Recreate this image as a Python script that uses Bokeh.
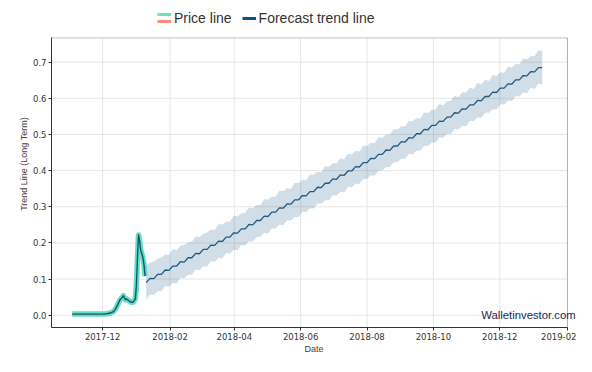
import pandas as pd
from bokeh.plotting import figure
from bokeh.models import (Range1d, FixedTicker, DatetimeTickFormatter, NumeralTickFormatter,
                          Label, Legend, LegendItem, BoxAnnotation)
from bokeh.embed import file_html
from bokeh.resources import INLINE

# ---------------- data ----------------
price_dates = ["2017-11-03", "2017-11-10", "2017-11-17", "2017-11-24", "2017-12-01",
               "2017-12-05", "2017-12-08", "2017-12-11", "2017-12-13", "2017-12-15",
               "2017-12-17", "2017-12-19", "2017-12-20", "2017-12-21", "2017-12-22",
               "2017-12-23", "2017-12-25", "2017-12-27", "2017-12-29", "2017-12-31",
               "2018-01-01", "2018-01-02", "2018-01-03", "2018-01-04", "2018-01-05",
               "2018-01-06", "2018-01-07", "2018-01-08", "2018-01-09"]
price_values = [0.003, 0.003, 0.003, 0.003, 0.003,
                0.004, 0.006, 0.010, 0.018, 0.030,
                0.043, 0.049, 0.054, 0.048, 0.043,
                0.045, 0.040, 0.036, 0.036, 0.045,
                0.080, 0.160, 0.222, 0.205, 0.180,
                0.170, 0.160, 0.140, 0.108]

forecast_start = "2018-01-10"
forecast_step_hours = 84
forecast_trend = [
    0.090, 0.102, 0.101, 0.113, 0.113, 0.125, 0.124, 0.136, 0.136, 0.148,
    0.147, 0.159, 0.159, 0.171, 0.170, 0.182, 0.182, 0.194, 0.193, 0.205,
    0.204, 0.216, 0.216, 0.228, 0.227, 0.239, 0.239, 0.251, 0.250, 0.262,
    0.262, 0.274, 0.273, 0.285, 0.285, 0.297, 0.296, 0.308, 0.307, 0.319,
    0.319, 0.331, 0.330, 0.342, 0.342, 0.354, 0.353, 0.365, 0.365, 0.377,
    0.376, 0.388, 0.387, 0.399, 0.399, 0.411, 0.410, 0.422, 0.422, 0.434,
    0.433, 0.445, 0.445, 0.457, 0.456, 0.468, 0.468, 0.480, 0.479, 0.491,
    0.490, 0.502, 0.502, 0.514, 0.513, 0.525, 0.525, 0.537, 0.536, 0.548,
    0.548, 0.560, 0.559, 0.571, 0.570, 0.582, 0.582, 0.594, 0.593, 0.605,
    0.605, 0.617, 0.616, 0.628, 0.628, 0.640, 0.639, 0.651, 0.651, 0.663,
    0.662, 0.674, 0.673, 0.685, 0.685]
forecast_upper = [
    0.137, 0.146, 0.148, 0.156, 0.160, 0.168, 0.167, 0.183, 0.180, 0.192,
    0.194, 0.201, 0.203, 0.218, 0.216, 0.225, 0.229, 0.237, 0.236, 0.252,
    0.251, 0.259, 0.259, 0.275, 0.274, 0.282, 0.283, 0.298, 0.296, 0.305,
    0.305, 0.321, 0.320, 0.328, 0.328, 0.344, 0.343, 0.351, 0.350, 0.366,
    0.366, 0.374, 0.373, 0.389, 0.389, 0.397, 0.396, 0.412, 0.411, 0.420,
    0.420, 0.434, 0.431, 0.446, 0.445, 0.455, 0.453, 0.469, 0.468, 0.477,
    0.476, 0.492, 0.491, 0.500, 0.499, 0.515, 0.514, 0.523, 0.522, 0.538,
    0.537, 0.545, 0.545, 0.561, 0.559, 0.568, 0.569, 0.584, 0.581, 0.592,
    0.593, 0.607, 0.603, 0.617, 0.616, 0.629, 0.626, 0.642, 0.639, 0.651,
    0.648, 0.665, 0.662, 0.672, 0.671, 0.688, 0.685, 0.695, 0.694, 0.710,
    0.708, 0.717, 0.716, 0.733, 0.731]
forecast_lower = [
    0.043, 0.057, 0.056, 0.066, 0.066, 0.080, 0.079, 0.089, 0.088, 0.103,
    0.102, 0.112, 0.112, 0.126, 0.125, 0.135, 0.135, 0.149, 0.148, 0.158,
    0.157, 0.172, 0.171, 0.181, 0.180, 0.194, 0.193, 0.205, 0.203, 0.216,
    0.217, 0.228, 0.226, 0.240, 0.240, 0.250, 0.249, 0.263, 0.262, 0.272,
    0.272, 0.286, 0.285, 0.295, 0.295, 0.309, 0.308, 0.318, 0.318, 0.332,
    0.331, 0.341, 0.340, 0.355, 0.354, 0.364, 0.363, 0.377, 0.377, 0.387,
    0.386, 0.400, 0.400, 0.410, 0.409, 0.423, 0.423, 0.433, 0.432, 0.446,
    0.445, 0.455, 0.455, 0.469, 0.468, 0.478, 0.478, 0.492, 0.491, 0.501,
    0.501, 0.515, 0.514, 0.524, 0.523, 0.537, 0.537, 0.547, 0.546, 0.560,
    0.560, 0.570, 0.569, 0.583, 0.583, 0.593, 0.592, 0.606, 0.605, 0.616,
    0.614, 0.629, 0.626, 0.640, 0.638]

x_tick_labels = ["2017-12", "2018-02", "2018-04", "2018-06", "2018-08",
                 "2018-10", "2018-12", "2019-02"]
y_ticks = [0.0, 0.1, 0.2, 0.3, 0.4, 0.5, 0.6, 0.7]
legend_labels = ["Price line", "Forecast trend line"]
watermark = "Walletinvestor.com"

# ---------------- derived ----------------
price_x = pd.to_datetime(price_dates)
forecast_x = pd.date_range(forecast_start, periods=len(forecast_trend),
                           freq=pd.Timedelta(hours=forecast_step_hours))
x_tick_ms = [pd.Timestamp(t + "-01").value / 1e6 for t in x_tick_labels]

# ---------------- geometry (pixels) ----------------
W, H = 576, 356
LEFT, BOTTOM = 51, 24
BOX_RIGHT, BOX_TOP = 567, 38           # visible axes box (right / top edge)
FRAME_H = H - BOTTOM                   # frame spans whole top and right
BOX_H = FRAME_H - BOX_TOP
BOX_W = BOX_RIGHT - LEFT
FRAME_W = W - LEFT

x0 = pd.Timestamp("2017-10-15").value / 1e6
x1 = pd.Timestamp("2019-02-01 06:00").value / 1e6
y0, y1 = -0.034, 0.767
x_end = x1 + (x1 - x0) / BOX_W * (FRAME_W - BOX_W)
y_end = y1 + (y1 - y0) / BOX_H * BOX_TOP

p = figure(width=W, height=H, x_axis_type="datetime",
           output_backend="svg", toolbar_location=None,
           min_border_left=LEFT, min_border_right=0, min_border_top=0,
           min_border_bottom=BOTTOM,
           x_range=Range1d(x0, x_end), y_range=Range1d(y0, y_end))
p.background_fill_color = "white"
p.border_fill_color = "white"
p.outline_line_color = None
p.grid.visible = False

# grid lines (inside visible box only)
p.segment(x0=x_tick_ms, y0=[y0] * len(x_tick_ms), x1=x_tick_ms, y1=[y1] * len(x_tick_ms),
          line_color="#e6e6e6", line_width=1)
p.segment(x0=[x0] * len(y_ticks), y0=y_ticks, x1=[x1] * len(y_ticks), y1=y_ticks,
          line_color="#e6e6e6", line_width=1)

# band + forecast
p.varea(x=forecast_x, y1=forecast_lower, y2=forecast_upper,
        fill_color="#1f5a85", fill_alpha=0.2)
p.line(forecast_x, forecast_trend, line_color="#1f5a85", line_width=1.3)

# price
p.line(price_x, price_values, line_color="#5fe0bf", line_width=5.5, line_join="round")
p.line(price_x, price_values, line_color="#1f4f75", line_width=1.4, line_join="round")

# visible box
p.add_layout(BoxAnnotation(left=x0, right=x1, bottom=y0, top=y1,
                           fill_alpha=0, line_color="#333333", line_width=1))

# axes
for ax in (p.xaxis[0], p.yaxis[0]):
    ax.axis_line_color = "#333333"
    ax.major_tick_line_color = "#333333"
    ax.major_tick_in = 0
    ax.major_tick_out = 3
    ax.minor_tick_line_color = None
    ax.major_label_text_font = "DejaVu Sans"
    ax.major_label_text_font_size = "8.5px"
    ax.major_label_text_color = "#333333"
    ax.major_label_standoff = 2
    ax.axis_label_text_font = "Liberation Sans"
    ax.axis_label_text_font_size = "9px"
    ax.axis_label_text_font_style = "normal"
    ax.axis_label_text_color = "#444444"
    ax.axis_label_standoff = 1

p.xaxis.bounds = (x0, x1)
p.yaxis.bounds = (y0, y1)
p.xaxis.ticker = FixedTicker(ticks=x_tick_ms)
p.xaxis.formatter = DatetimeTickFormatter(
    milliseconds="%Y-%m", seconds="%Y-%m", minsec="%Y-%m", minutes="%Y-%m",
    hourmin="%Y-%m", hours="%Y-%m", days="%Y-%m", months="%Y-%m", years="%Y-%m")
p.yaxis.ticker = FixedTicker(ticks=y_ticks)
p.yaxis.formatter = NumeralTickFormatter(format="0.0")
p.xaxis.axis_label = "Date"
p.yaxis.axis_label = "Trend Line (Long Term)"

# watermark
p.add_layout(Label(x=pd.Timestamp("2018-11-14").value / 1e6, y=0.0,
                   text=watermark, text_font="Liberation Sans",
                   text_font_size="11.3px", text_baseline="middle", text_align="left",
                   text_color="#1b2b4d"))

# legend (above visible box, inside the frame); proxies hold a single NaN point
nan = float("nan")
d_price = p.line([x0], [nan], line_alpha=0)
d_fore = p.line([x0], [nan], line_color="#0d4f80", line_width=3)
d_turq = p.line([x0], [nan], line_color="#6de0c2", line_width=3)
d_salm = p.line([x0], [nan], line_color="#fc8d78", line_width=3)

def mk_legend(items, loc, gh, fs):
    lg = Legend(items=items, location=loc, orientation="horizontal",
                margin=0, padding=0, spacing=10, label_standoff=3,
                glyph_width=14, glyph_height=gh, label_height=gh,
                label_text_font="Liberation Sans", label_text_font_size=fs,
                label_text_color="#333333",
                border_line_color=None, background_fill_alpha=0)
    p.add_layout(lg, "center")

LX = 157 - LEFT
mk_legend([LegendItem(label=legend_labels[0], renderers=[d_price]),
           LegendItem(label=legend_labels[1], renderers=[d_fore])],
          (LX, FRAME_H - 18.5 - 10 - 4.5), 20, "14px")
mk_legend([LegendItem(label=" ", renderers=[d_turq])], (LX, FRAME_H - 14.7 - 3 - 4.5), 6, "1px")
mk_legend([LegendItem(label=" ", renderers=[d_salm])], (LX, FRAME_H - 21.7 - 3 - 4.5), 6, "1px")

open("out.html", "w").write(file_html(p, INLINE))
